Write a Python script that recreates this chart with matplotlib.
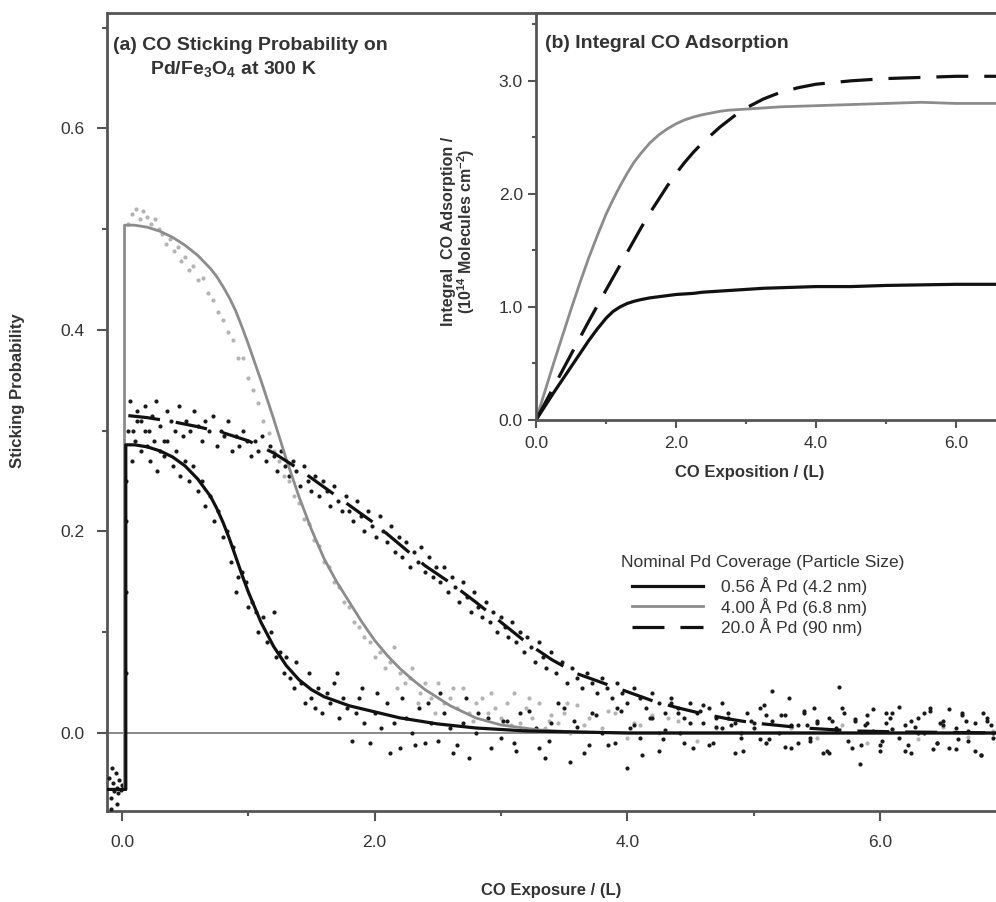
import matplotlib
matplotlib.use("Agg")
import matplotlib.pyplot as plt
from matplotlib.ticker import MultipleLocator, FormatStrFormatter

plt.rcParams['font.family'] = ['Liberation Sans', 'DejaVu Sans']
plt.rcParams['mathtext.fontset'] = 'custom'
plt.rcParams['mathtext.rm'] = 'Liberation Sans'
plt.rcParams['mathtext.bf'] = 'Liberation Sans:bold'

# ---------------- data ----------------
labels = ['0.56 Å Pd (4.2 nm)', '4.00 Å Pd (6.8 nm)', '20.0 Å Pd (90 nm)']

# fitted curves, panel (a)
fit_a_x = [-0.12, 0.03, 0.03, 0.1, 0.2, 0.3, 0.4, 0.5, 0.6, 0.7, 0.75, 0.8, 0.85, 0.9, 0.95,
           1.0, 1.1, 1.2, 1.3, 1.4, 1.5, 1.6, 1.8, 2.0, 2.2, 2.5, 2.8, 3.2, 3.6, 4.0, 5.0, 6.0, 7.0]
fit_a_y = [-0.056, -0.056, 0.286, 0.286, 0.284, 0.28, 0.274, 0.265, 0.252, 0.235, 0.223, 0.209,
           0.193, 0.175, 0.157, 0.14, 0.11, 0.086, 0.067, 0.053, 0.043, 0.036, 0.027, 0.021,
           0.015, 0.009, 0.005, 0.002, 0.001, 0.0, 0.0, 0.0, 0.0]

fit_b_x = [-0.12, 0.02, 0.02, 0.1, 0.2, 0.3, 0.4, 0.5, 0.6, 0.7, 0.75, 0.8, 0.85, 0.9, 0.95,
           1.0, 1.05, 1.1, 1.15, 1.2, 1.3, 1.4, 1.5, 1.6, 1.7, 1.8, 1.9, 2.0, 2.1, 2.2, 2.3, 2.4,
           2.6, 2.8, 3.0, 3.3, 3.6, 4.0, 7.0]
fit_b_y = [-0.056, -0.056, 0.504, 0.504, 0.502, 0.498, 0.492, 0.484, 0.474, 0.461, 0.453, 0.443,
           0.432, 0.419, 0.403, 0.386, 0.368, 0.35, 0.331, 0.312, 0.272, 0.235, 0.202, 0.173,
           0.15, 0.13, 0.11, 0.092, 0.077, 0.064, 0.053, 0.043, 0.027, 0.015, 0.008, 0.003,
           0.001, 0.0, 0.0]

fit_c_x = [0.05, 0.2, 0.4, 0.6, 0.8, 1.0, 1.2, 1.4, 1.6, 1.8, 2.0, 2.2, 2.4, 2.6, 2.8, 3.0, 3.2,
           3.4, 3.6, 3.8, 4.0, 4.2, 4.4, 4.6, 4.8, 5.0, 5.4, 5.8, 6.2, 7.0]
fit_c_y = [0.315, 0.313, 0.309, 0.304, 0.298, 0.29, 0.278, 0.262, 0.244, 0.226, 0.208, 0.187,
           0.166, 0.149, 0.13, 0.11, 0.09, 0.073, 0.059, 0.05, 0.041, 0.032, 0.025, 0.019, 0.014,
           0.01, 0.005, 0.002, 0.001, 0.0]

# measured points, 0.56 A Pd (black)
pts_a_x = [-0.10, -0.09, -0.08, -0.07, -0.06, -0.05, -0.04, -0.03, -0.02, -0.01, 0.00, 0.01,
           -0.09, -0.04, 0.03, 0.03, 0.035, 0.03,
           0.05, 0.08, 0.10, 0.12, 0.15, 0.18, 0.20, 0.22, 0.25, 0.28, 0.30, 0.33, 0.36, 0.40,
           0.43, 0.46, 0.50, 0.53, 0.56, 0.60, 0.63, 0.66, 0.70, 0.73, 0.76, 0.80, 0.83, 0.86,
           0.88, 0.90, 0.92, 0.95, 0.98, 1.00, 1.03, 1.06, 1.08, 1.12, 1.15, 1.18, 1.20, 1.22,
           1.25, 1.28, 1.30, 1.33, 1.36, 1.38, 1.42, 1.45, 1.48, 1.50, 1.53, 1.55, 1.58, 1.62,
           1.65, 1.68, 1.72, 1.75, 1.78, 1.82, 1.85, 1.88, 1.92, 1.96, 2.00, 2.05, 2.10, 2.15,
           2.20, 2.25, 2.30, 2.35, 2.40, 2.45, 2.50, 2.55, 2.60, 2.65, 2.70, 2.75, 2.80, 2.90,
           3.00, 3.05, 3.10, 3.15, 3.20, 3.30, 3.35, 3.40, 3.50, 3.55, 3.60, 3.70, 3.75, 3.80,
           3.90, 3.95, 4.00, 4.05, 4.10, 4.20, 4.25, 4.30, 4.40, 4.45, 4.50, 4.60, 4.65, 4.70,
           4.80, 4.85, 4.90, 5.00, 5.05, 5.10, 5.15, 5.25, 5.30, 5.40, 5.45, 5.50, 5.60, 5.65,
           5.68, 5.80, 5.84, 5.90, 6.00, 6.05, 6.10, 6.20, 6.25, 6.30, 6.40, 6.45, 6.50, 6.60,
           6.65, 6.70, 6.80, 6.85, 6.90,
           1.70, 1.90, 2.02, 2.12, 2.22, 2.32, 2.42, 2.52, 2.62, 2.72, 2.82, 2.92,
           3.02, 3.12, 3.22, 3.28, 3.38, 3.45, 3.58, 3.66, 3.72, 3.85, 3.92, 4.02, 4.12, 4.18,
           4.28, 4.35, 4.42, 4.52, 4.58, 4.68, 4.75, 4.82, 4.92, 4.98, 5.08, 5.12, 5.22, 5.28,
           5.35, 5.42, 5.48, 5.58, 5.62, 5.72, 5.78, 5.88, 5.95, 6.02, 6.08, 6.15, 6.22, 6.28,
           6.35, 6.42, 6.48, 6.55, 6.62, 6.68, 6.75, 6.82, 6.88, 6.95]
pts_a_y = [-0.045, -0.065, -0.035, -0.05, -0.058, -0.04, -0.055, -0.06, -0.047, -0.057, -0.052,
           -0.055, -0.075, -0.07, 0.06, 0.14, 0.21, 0.25,
           0.30, 0.27, 0.29, 0.31, 0.28, 0.30, 0.285, 0.27, 0.29, 0.26, 0.28, 0.275, 0.29, 0.265,
           0.28, 0.255, 0.27, 0.25, 0.265, 0.24, 0.25, 0.225, 0.235, 0.21, 0.22, 0.195, 0.20,
           0.17, 0.185, 0.14, 0.155, 0.16, 0.15, 0.125, 0.13, 0.12, 0.10, 0.115, 0.09, 0.10,
           0.12, 0.075, 0.08, 0.06, 0.075, 0.055, 0.045, 0.07, 0.05, 0.03, 0.06, 0.035, 0.025,
           0.045, 0.02, 0.04, 0.03, 0.05, 0.015, 0.035, 0.025, -0.008, 0.02, 0.035, 0.01, -0.01,
           0.02, 0.005, 0.03, 0.01, -0.015, 0.015, 0.0, 0.025, -0.01, 0.01, -0.008, 0.02, 0.005,
           -0.012, 0.01, -0.025, 0.0, 0.015, -0.005, 0.012, -0.01, 0.02, 0.004, -0.015, -0.025,
           0.01, 0.025, -0.029, 0.006, -0.012, 0.018, 0.0, -0.01, 0.022, -0.035, 0.008, -0.005,
           0.015, -0.018, 0.003, 0.02, -0.01, 0.01, 0.028, -0.012, 0.006, 0.015, -0.02, 0.0,
           0.01, -0.006, 0.018, 0.042, -0.014, 0.008, 0.02, -0.008, 0.012, -0.02, 0.005, 0.046,
           0.014, -0.031, 0.01, -0.012, 0.02, 0.004, -0.018, 0.012, 0.0, 0.025, -0.01, 0.008,
           -0.016, 0.018, 0.002, -0.022, 0.012, -0.005,
           0.06, 0.045, 0.04, -0.02, 0.035, -0.012, 0.03, 0.04, -0.02, 0.035, 0.02, -0.015,
           0.012, -0.018, 0.022, 0.005, -0.008, 0.03, 0.012, -0.02, 0.02, -0.012, 0.025, 0.005,
           -0.022, 0.015, -0.006, 0.03, 0.0, -0.015, 0.022, -0.01, 0.03, 0.008, -0.018, 0.012,
           0.028, -0.006, 0.018, 0.035, -0.01, 0.008, 0.025, -0.018, 0.012, 0.02, -0.015, 0.008,
           0.024, -0.008, 0.015, 0.026, -0.012, 0.006, 0.02, -0.016, 0.01, 0.024, -0.006, 0.012,
           -0.018, 0.02, 0.008, -0.01]

# measured points, 4.00 A Pd (light grey)
pts_b_x = [0.05, 0.08, 0.11, 0.14, 0.17, 0.20, 0.23, 0.26, 0.29, 0.32, 0.35, 0.38, 0.41, 0.44,
           0.47, 0.50, 0.53, 0.56, 0.60, 0.64, 0.68, 0.72, 0.76, 0.80, 0.84, 0.88, 0.92, 0.96,
           1.00, 1.04, 1.08, 1.12, 1.16, 1.20, 1.24, 1.28, 1.32, 1.36, 1.40, 1.44, 1.48, 1.52,
           1.56, 1.60, 1.64, 1.68, 1.72, 1.76, 1.80, 1.84, 1.88, 1.92, 1.96, 2.00, 2.04, 2.08,
           2.12, 2.15, 2.20, 2.24, 2.28, 2.30, 2.36, 2.40, 2.45, 2.50, 2.55, 2.60, 2.65, 2.70,
           2.75, 2.80, 2.85, 2.90, 2.95, 3.00, 3.05, 3.10, 3.15, 3.20, 3.25, 3.30, 3.35, 3.40,
           3.45, 3.50, 3.55, 3.60, 3.70, 3.80, 3.90, 4.00, 4.10, 4.20, 4.25, 4.40, 4.55, 4.70,
           4.90, 5.10, 5.30, 5.50, 5.70, 5.90, 6.10, 6.30, 6.50, 6.70, 6.90,
           2.18, 2.34, 2.48, 2.62, 2.78, 2.92, 3.08, 3.22, 3.38, 3.52, 3.66, 3.85, 4.05, 4.32]
pts_b_y = [0.505, 0.515, 0.52, 0.51, 0.518, 0.512, 0.505, 0.51, 0.50, 0.495, 0.485, 0.49,
           0.478, 0.482, 0.468, 0.472, 0.46, 0.463, 0.45, 0.452, 0.437, 0.43, 0.418, 0.41, 0.398,
           0.39, 0.372, 0.372, 0.352, 0.34, 0.328, 0.31, 0.298, 0.28, 0.27, 0.255, 0.25, 0.235,
           0.228, 0.212, 0.207, 0.192, 0.186, 0.17, 0.165, 0.15, 0.145, 0.13, 0.125, 0.11, 0.105,
           0.095, 0.09, 0.075, 0.08, 0.065, 0.07, 0.085, 0.06, 0.05, 0.055, 0.065, 0.04, 0.05,
           0.035, 0.05, 0.03, 0.035, 0.025, 0.045, 0.02, 0.03, 0.035, 0.02, 0.025, 0.015, 0.03,
           0.04, 0.01, 0.025, 0.015, 0.03, 0.005, 0.018, 0.01, 0.02, 0.0, 0.028, 0.015, 0.005,
           0.02, -0.005, 0.008, 0.018, 0.0, 0.012, -0.008, 0.005, 0.0, -0.01, 0.005, -0.005,
           0.008, -0.01, 0.004, -0.006, 0.006, -0.004, 0.002,
           0.045, 0.03, 0.02, 0.045, 0.012, 0.04, 0.008, 0.035, 0.012, 0.03, 0.008, 0.022,
           0.01, 0.015]

# measured points, 20.0 A Pd (black)
pts_c_x = [0.06, 0.09, 0.12, 0.15, 0.18, 0.21, 0.24, 0.27, 0.30, 0.33, 0.36, 0.39, 0.42, 0.45,
           0.48, 0.51, 0.54, 0.57, 0.60, 0.63, 0.66, 0.69, 0.72, 0.75, 0.78, 0.81, 0.84, 0.87,
           0.90, 0.93, 0.96, 0.99, 1.02, 1.05, 1.08, 1.11, 1.14, 1.17, 1.20, 1.23, 1.26, 1.29,
           1.32, 1.35, 1.38, 1.41, 1.44, 1.47, 1.50, 1.53, 1.56, 1.59, 1.62, 1.65, 1.68, 1.71,
           1.74, 1.77, 1.80, 1.83, 1.86, 1.89, 1.92, 1.95, 1.98, 2.01, 2.04, 2.07, 2.10, 2.13,
           2.16, 2.19, 2.22, 2.25, 2.28, 2.31, 2.34, 2.37, 2.40, 2.43, 2.46, 2.49, 2.52, 2.55,
           2.58, 2.61, 2.64, 2.67, 2.70, 2.73, 2.76, 2.79, 2.82, 2.85, 2.88, 2.91, 2.94, 2.97,
           3.00, 3.03, 3.06, 3.09, 3.12, 3.15, 3.18, 3.21, 3.24, 3.27, 3.30, 3.33, 3.36, 3.40,
           3.44, 3.48, 3.52, 3.56, 3.60, 3.64, 3.68, 3.72, 3.76, 3.80, 3.84, 3.88, 3.92, 3.96,
           4.00, 4.05, 4.10, 4.15, 4.20, 4.25, 4.30, 4.35, 4.40, 4.45, 4.50, 4.55, 4.60, 4.65,
           4.70, 4.75, 4.80, 4.85, 4.90, 4.95, 5.00, 5.05, 5.10, 5.15, 5.20, 5.25, 5.30, 5.35,
           5.40, 5.45, 5.50, 5.55, 5.60, 5.65, 5.70, 5.75, 5.80, 5.85, 5.90, 5.95, 6.00, 6.05,
           6.10, 6.15, 6.20, 6.25, 6.30, 6.35, 6.40, 6.45, 6.50, 6.55, 6.60, 6.65, 6.70, 6.75,
           6.80, 6.85, 6.90]
pts_c_y = [0.33, 0.30, 0.32, 0.31, 0.325, 0.30, 0.315, 0.33, 0.305, 0.29, 0.32, 0.31, 0.30,
           0.325, 0.295, 0.31, 0.30, 0.32, 0.305, 0.29, 0.31, 0.30, 0.315, 0.285, 0.30, 0.295,
           0.31, 0.28, 0.295, 0.285, 0.30, 0.29, 0.275, 0.29, 0.28, 0.295, 0.27, 0.285, 0.275,
           0.26, 0.28, 0.265, 0.255, 0.27, 0.26, 0.245, 0.265, 0.25, 0.24, 0.255, 0.235, 0.25,
           0.24, 0.225, 0.245, 0.23, 0.22, 0.235, 0.22, 0.21, 0.23, 0.215, 0.20, 0.22, 0.205,
           0.195, 0.215, 0.20, 0.19, 0.205, 0.18, 0.195, 0.175, 0.19, 0.165, 0.18, 0.17, 0.185,
           0.16, 0.175, 0.155, 0.165, 0.15, 0.165, 0.14, 0.155, 0.145, 0.13, 0.15, 0.135, 0.12,
           0.14, 0.125, 0.115, 0.13, 0.11, 0.12, 0.10, 0.115, 0.105, 0.095, 0.11, 0.09, 0.10,
           0.08, 0.095, 0.085, 0.07, 0.09, 0.075, 0.065, 0.08, 0.06, 0.07, 0.05, 0.065, 0.055,
           0.045, 0.06, 0.05, 0.04, 0.055, 0.045, 0.035, 0.05, 0.04, 0.03, 0.045, 0.035, 0.025,
           0.04, 0.03, 0.02, 0.035, 0.025, 0.015, 0.03, 0.02, 0.01, 0.025, 0.015, 0.005, 0.02,
           0.01, -0.005, 0.02, 0.005, 0.025, -0.01, 0.012, 0.0, 0.018, -0.015, 0.008, 0.022,
           -0.005, 0.01, -0.02, 0.015, 0.003, 0.025, -0.008, 0.012, -0.012, 0.018, 0.002,
           -0.018, 0.01, 0.02, -0.005, 0.008, -0.02, 0.015, 0.0, 0.022, -0.01, 0.012, -0.015,
           0.005, 0.02, -0.008, 0.01, -0.022, 0.015, 0.0]

# panel (b): integral CO adsorption / 1e14 molecules cm^-2
int_x = [0.0, 0.125, 0.25, 0.375, 0.5, 0.625, 0.75, 0.875, 1.0, 1.1, 1.2, 1.3, 1.4, 1.5, 1.625,
         1.75, 1.875, 2.0, 2.125, 2.25, 2.375, 2.5, 2.625, 2.75, 2.875, 3.0, 3.25, 3.5, 3.75,
         4.0, 4.5, 5.0, 5.5, 6.0, 6.6]
int_a = [0.0, 0.12, 0.24, 0.355, 0.47, 0.585, 0.70, 0.805, 0.90, 0.96, 1.0, 1.03, 1.05, 1.065,
         1.08, 1.09, 1.10, 1.11, 1.115, 1.12, 1.13, 1.135, 1.14, 1.145, 1.15, 1.155, 1.165,
         1.17, 1.175, 1.18, 1.18, 1.19, 1.195, 1.20, 1.20]
int_b = [0.0, 0.25, 0.50, 0.74, 0.98, 1.21, 1.43, 1.63, 1.82, 1.95, 2.07, 2.18, 2.28, 2.36,
         2.45, 2.52, 2.575, 2.62, 2.655, 2.68, 2.70, 2.715, 2.73, 2.74, 2.745, 2.75, 2.76,
         2.77, 2.775, 2.78, 2.79, 2.80, 2.81, 2.80, 2.80]
int_c = [0.0, 0.145, 0.29, 0.435, 0.58, 0.725, 0.87, 1.01, 1.15, 1.26, 1.37, 1.48, 1.59, 1.70,
         1.83, 1.95, 2.07, 2.18, 2.28, 2.37, 2.45, 2.52, 2.59, 2.65, 2.71, 2.76, 2.84, 2.90,
         2.94, 2.97, 3.00, 3.02, 3.03, 3.04, 3.04]

# ---------------- figure ----------------
text_col = '#333333'
spine_col = '#555555'
fig = plt.figure(figsize=(9.96, 9.02), dpi=100)

ax = fig.add_axes([0.1074, 0.1009, 0.8926, 0.8847])
ax.axhline(0, color='#777777', lw=1.2, zorder=1)

# data points first, fits on top
ax.plot(pts_b_x, pts_b_y, 'o', ms=3.0, color='#b4b4b4', mec='none', zorder=2)
ax.plot(pts_a_x, pts_a_y, 'o', ms=3.0, color='#1a1a1a', mec='none', zorder=3)
ax.plot(pts_c_x, pts_c_y, 'o', ms=3.0, color='#1a1a1a', mec='none', zorder=3)

la, = ax.plot(fit_a_x, fit_a_y, color='#111111', lw=2.3, zorder=5, label=labels[0])
lb, = ax.plot(fit_b_x, fit_b_y, color='#8c8c8c', lw=2.0, zorder=4, label=labels[1])
lc, = ax.plot(fit_c_x, fit_c_y, color='#111111', lw=2.3, dashes=(10, 5), zorder=5,
              label=labels[2])

ax.set_xlim(-0.119, 6.92)
ax.set_ylim(-0.0774, 0.7146)
ax.xaxis.set_major_locator(MultipleLocator(2))
ax.xaxis.set_minor_locator(MultipleLocator(1))
ax.yaxis.set_major_locator(MultipleLocator(0.2))
ax.yaxis.set_minor_locator(MultipleLocator(0.1))
ax.xaxis.set_major_formatter(FormatStrFormatter('%.1f'))
ax.yaxis.set_major_formatter(FormatStrFormatter('%.1f'))
ax.spines['right'].set_visible(False)
for s in ['left', 'bottom', 'top']:
    ax.spines[s].set_color(spine_col)
    ax.spines[s].set_linewidth(2)
ax.tick_params(which='major', direction='out', length=7, width=1.5, color=spine_col,
               labelsize=12.5, labelcolor=text_col)
ax.tick_params(which='minor', direction='out', length=3.5, width=1.5, color=spine_col)
ax.tick_params(axis='y', which='major', pad=9)
ax.tick_params(axis='x', which='major', pad=10)

# legend
fig.text(621 / 996, 1 - 562 / 902, 'Nominal Pd Coverage (Particle Size)', fontsize=12.5,
         color=text_col, va='center', ha='left')
leg = ax.legend(handles=[la, lb, lc], loc='upper left', bbox_to_anchor=(632 / 996, 1 - 577 / 902),
                bbox_transform=fig.transFigure, frameon=False, fontsize=12.5, handlelength=4.1,
                handletextpad=1.0, labelspacing=0.15, borderpad=0, borderaxespad=0)
for t in leg.get_texts():
    t.set_color(text_col)

# panel labels and axis titles
fig.text(113 / 996, 1 - 50 / 902, '(a) CO Sticking Probability on', fontsize=14,
         fontweight='bold', color=text_col, va='baseline')
fig.text(150 / 996, 1 - 75 / 902, r'Pd/Fe$_\mathbf{3}$O$_\mathbf{4}$ at 300 K', fontsize=14,
         fontweight='bold', color=text_col, va='baseline')
fig.text(18 / 996, 1 - 391 / 902, 'Sticking Probability', rotation=90, fontsize=12,
         fontweight='bold', color=text_col, ha='center', va='center')
fig.text(551 / 996, 1 - 890 / 902, 'CO Exposure / (L)', fontsize=12, fontweight='bold',
         color=text_col, ha='center', va='center')

# inset, panel (b)
axb = fig.add_axes([0.5382, 0.5344, 0.4618, 0.4512])
axb.set_facecolor('white')
axb.plot(int_x, int_a, color='#111111', lw=2.3)
axb.plot(int_x, int_b, color='#8c8c8c', lw=2.0)
axb.plot(int_x, int_c, color='#111111', lw=2.3, dashes=(10, 5))
axb.set_xlim(0, 6.57)
axb.set_ylim(0, 3.6)
axb.xaxis.set_major_locator(MultipleLocator(2))
axb.xaxis.set_minor_locator(MultipleLocator(1))
axb.yaxis.set_major_locator(MultipleLocator(1))
axb.yaxis.set_minor_locator(MultipleLocator(0.5))
axb.xaxis.set_major_formatter(FormatStrFormatter('%.1f'))
axb.yaxis.set_major_formatter(FormatStrFormatter('%.1f'))
axb.spines['right'].set_visible(False)
for s in ['left', 'bottom', 'top']:
    axb.spines[s].set_color(spine_col)
    axb.spines[s].set_linewidth(2)
axb.tick_params(which='major', direction='out', length=5.5, width=1.5, color=spine_col,
                labelsize=12.5, labelcolor=text_col, pad=4)
axb.tick_params(which='minor', direction='out', length=3, width=1.5, color=spine_col)
axb.tick_params(axis='x', which='major', pad=6)

fig.text(545 / 996, 1 - 48 / 902, '(b) Integral CO Adsorption', fontsize=14,
         fontweight='bold', color=text_col, va='baseline')
fig.text(459 / 996, 1 - 231 / 902,
         'Integral  CO Adsorption /\n' + r'(10$^{\mathbf{14}}$ Molecules cm$^{\mathbf{-2}}$)',
         rotation=90, fontsize=11.5, fontweight='bold', color=text_col, ha='center',
         va='center', multialignment='center', linespacing=1.0)
fig.text(750 / 996, 1 - 472 / 902, 'CO Exposition / (L)', fontsize=12, fontweight='bold',
         color=text_col, ha='center', va='center')

fig.savefig('out.png', dpi=100)
